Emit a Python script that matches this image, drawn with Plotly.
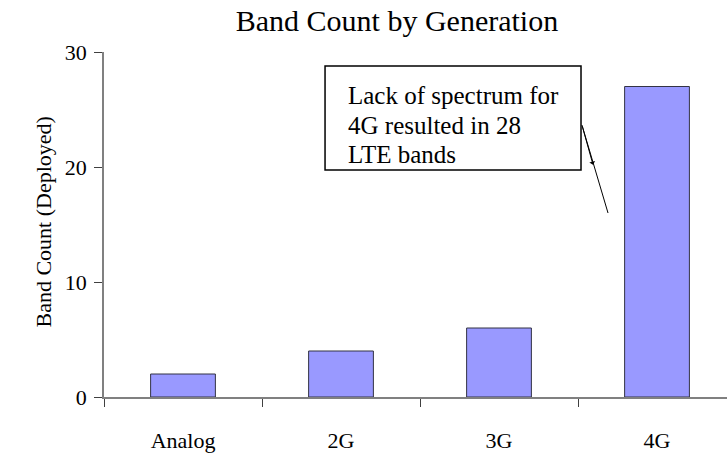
import plotly.graph_objects as go

categories = ["Analog", "2G", "3G", "4G"]
band_counts = [2, 4, 6, 27]
y_ticks = [0, 10, 20, 30]
note_lines = ["Lack of spectrum for", "4G resulted in 28", "LTE bands"]

FONT = "Liberation Serif, Times New Roman, serif"

fig = go.Figure()
fig.add_trace(go.Bar(
    x=categories, y=band_counts, width=0.41,
    marker=dict(color="#9999FF", line=dict(color="#333344", width=1)),
    showlegend=False,
))

fig.update_layout(
    width=727, height=453,
    margin=dict(l=104, r=0, t=52, b=56),
    paper_bgcolor="white", plot_bgcolor="white",
    font=dict(family=FONT, color="black", size=22),
    title=dict(text="Band Count by Generation", x=397/727, xanchor="center",
               y=1-20/453, yanchor="middle", yref="container",
               font=dict(family=FONT, size=30, color="black")),
)
fig.update_xaxes(
    range=[-0.5, 3.443], showgrid=False, zeroline=False,
    showline=True, linecolor="#808080", linewidth=1.5,
    ticks="outside", tickson="boundaries", ticklen=8, tickcolor="#404040", tickwidth=1,
    ticklabelstandoff=23, tickfont=dict(family=FONT, size=22, color="black"),
)
fig.update_yaxes(
    range=[0, 30], tickvals=y_ticks, showgrid=False, zeroline=False,
    showline=True, linecolor="#808080", linewidth=1.5,
    ticks="outside", ticklen=8, tickcolor="#404040", tickwidth=1,
    ticklabelstandoff=3, tickfont=dict(family=FONT, size=22, color="black"),
)

fig.add_annotation(text="Band Count (Deployed)", xref="paper", yref="paper",
                   x=(28-104)/623, y=(397-222)/345, textangle=-90, showarrow=False,
                   font=dict(family=FONT, size=22, color="black"))

# annotation box
fig.add_shape(type="rect", xref="x", yref="y", x0=0.899, x1=2.519, y0=19.74, y1=28.78,
              line=dict(color="black", width=1.5), fillcolor="white", layer="above")
for line_text, yv in zip(note_lines, [26.2, 23.6, 21.05]):
    fig.add_annotation(text=line_text, xref="x", yref="y", x=1.032, y=yv,
                       xanchor="left", yanchor="middle", showarrow=False,
                       font=dict(family=FONT, size=25, color="black"))
fig.add_shape(type="line", xref="x", yref="y", x0=2.525, y0=23.65, x1=2.69, y1=16.0,
              line=dict(color="black", width=1))
fig.add_annotation(x=2.595, y=20.2, ax=2.525, ay=23.65, xref="x", yref="y",
                   axref="x", ayref="y", text="", showarrow=True,
                   arrowhead=1, arrowsize=1, arrowwidth=1, arrowcolor="black")

fig.write_html("out.html")
